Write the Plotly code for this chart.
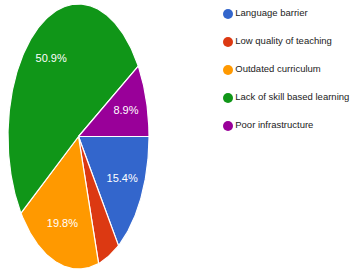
import numpy as np
import plotly.graph_objects as go

categories = ["Language barrier", "Low quality of teaching", "Outdated curriculum",
              "Lack of skill based learning", "Poor infrastructure"]
values = [15.4, 5.0, 19.8, 50.9, 8.9]
colors = ["#3366cc", "#dc3912", "#ff9900", "#109618", "#990099"]

FONT = "Liberation Sans, Arial, sans-serif"
W, H = 351, 270

fig = go.Figure()

total = sum(values)
cum = np.concatenate([[0], np.cumsum(values)]) / total
label_x, label_y, label_t = [], [], []
for i, (cat, v, c) in enumerate(zip(categories, values, colors)):
    a0, a1 = cum[i], cum[i + 1]
    t = np.linspace(a0, a1, max(int((a1 - a0) * 360), 2) + 1)
    theta = -2 * np.pi * t
    xs = np.concatenate([[0], np.cos(theta), [0]])
    ys = np.concatenate([[0], np.sin(theta), [0]])
    fig.add_trace(go.Scatter(x=xs, y=ys, mode="lines", fill="toself",
                             fillcolor=c, line=dict(color="white", width=1.2),
                             hoverinfo="skip", showlegend=False,
                             xaxis="x", yaxis="y"))
    if v / total >= 0.06:
        m = -2 * np.pi * (a0 + a1) / 2
        label_x.append(0.7 * np.cos(m))
        label_y.append(0.7 * np.sin(m))
        label_t.append(f"{v:.1f}%")

fig.add_trace(go.Scatter(x=label_x, y=label_y, mode="text", text=label_t,
                         textfont=dict(color="white", size=11, family=FONT),
                         hoverinfo="skip", showlegend=False, xaxis="x", yaxis="y"))

# legend drawn as markers with text on a second axis
fig.add_trace(go.Scatter(x=[0] * len(categories), y=list(range(len(categories))),
                         mode="markers+text", text=categories,
                         textposition="middle right",
                         marker=dict(color=colors, size=10),
                         textfont=dict(color="#222222", size=9.5, family=FONT),
                         cliponaxis=False, hoverinfo="skip", showlegend=False,
                         xaxis="x2", yaxis="y2"))

left, right, top, bottom = 8, 149, 4, 269
row0, row_gap = 14, 28
y2_top = row0 - row_gap / 2
y2_bot = row0 + row_gap * (len(categories) - 0.5)

hidden = dict(visible=False, showgrid=False, zeroline=False, fixedrange=True)
fig.update_layout(
    width=W, height=H,
    margin=dict(l=0, r=0, t=0, b=0),
    paper_bgcolor="white", plot_bgcolor="white",
    xaxis=dict(range=[-1, 1], domain=[left / W, right / W], **hidden),
    yaxis=dict(range=[-1, 1], domain=[(H - bottom) / H, (H - top) / H], **hidden),
    xaxis2=dict(range=[-28, 123], domain=[200 / W, 1], **hidden),
    yaxis2=dict(range=[len(categories) - 0.5, -0.5],
                domain=[(H - y2_bot) / H, (H - y2_top) / H], **hidden),
    showlegend=False,
)

fig.write_html("out.html", config={"displayModeBar": False},
               post_script="document.body.style.margin='0';")
